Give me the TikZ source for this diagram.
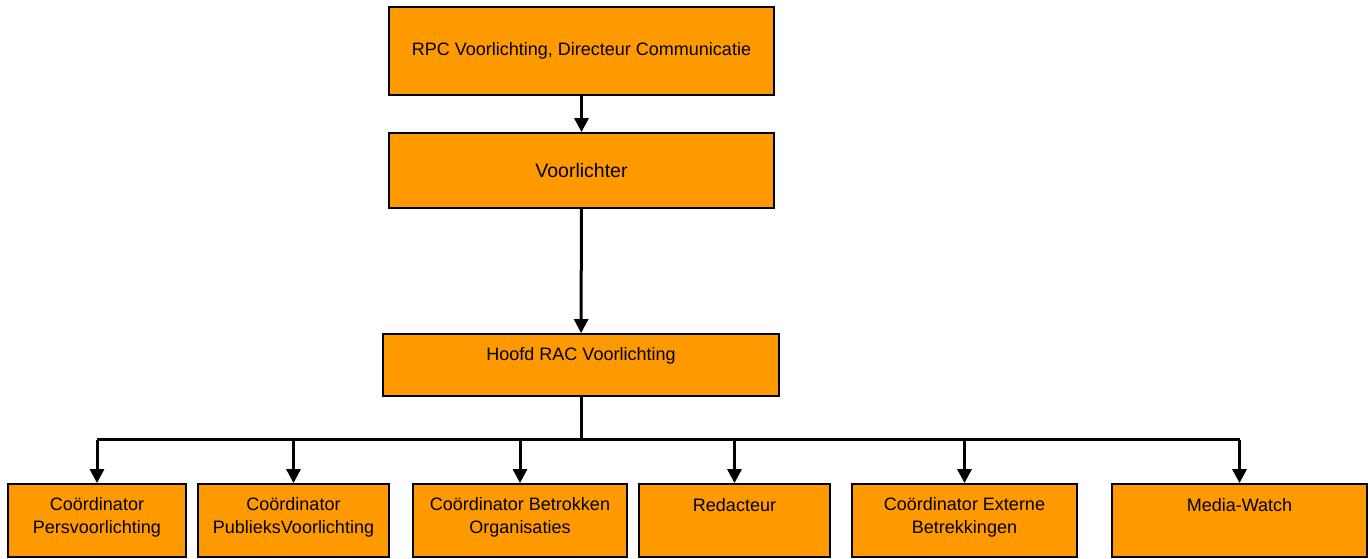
\documentclass[tikz,border=0pt]{standalone}
\usepackage{fontspec}
\setmainfont{Liberation Sans}
\usepackage{xcolor}
\usetikzlibrary{positioning, calc, arrows.meta}
\definecolor{boxorange}{RGB}{255,153,0}

\begin{document}
\begin{tikzpicture}[x=1pt,y=-1pt,
    box/.style={draw, line width=1.8pt, fill=boxorange, inner sep=0pt},
    txt/.style={font=\fontsize{18}{23}\selectfont, align=center, inner sep=0pt},
    conn/.style={line width=3pt, -{Triangle[length=14pt,width=14pt]}},
    bus/.style={line width=3pt}]
      \useasboundingbox (0,0) rectangle (1368,558);
      % top of the chart
      \node[box, minimum width=385pt, minimum height=88pt, font=\fontsize{18}{23}\selectfont] (rpc) at (581.5,51) {RPC Voorlichting, Directeur Communicatie};
      \node[box, minimum width=385pt, minimum height=75pt, font=\fontsize{19.5}{23}\selectfont] (voor) at (581.5,170.5) {Voorlichter};
      \node[box, minimum width=396pt, minimum height=62pt] (hoofd) at (581,365) {};
      \node[txt, anchor=north] (hoofdtxt) at ([yshift=-14pt]hoofd.north) {Hoofd RAC Voorlichting};
      % bottom row
      \node[box, minimum width=178pt, minimum height=73pt] (pers) at (97,520.5) {};
      \node[box, minimum width=191pt, minimum height=73pt] (publ) at (293.5,520.5) {};
      \node[box, minimum width=214pt, minimum height=73pt] (betr) at (520,520.5) {};
      \node[box, minimum width=191pt, minimum height=73pt] (red) at (734.5,520.5) {};
      \node[box, minimum width=225pt, minimum height=73pt] (ext) at (964.5,520.5) {};
      \node[box, minimum width=255pt, minimum height=73pt] (media) at (1239.5,520.5) {};
      \node[txt, anchor=north] (perstxt) at ([yshift=-14.5pt]pers.north) {Coördinator\\Persvoorlichting};
      \node[txt, anchor=north] (publtxt) at ([yshift=-14.5pt]publ.north) {Coördinator\\PublieksVoorlichting};
      \node[txt, anchor=north] (betrtxt) at ([yshift=-14.5pt]betr.north) {Coördinator Betrokken\\Organisaties};
      \node[txt, anchor=north] (redtxt) at ([yshift=-15pt]red.north) {Redacteur};
      \node[txt, anchor=north] (exttxt) at ([yshift=-14.5pt]ext.north) {Coördinator Externe\\Betrekkingen};
      \node[txt, anchor=north] (mediatxt) at ([yshift=-15pt]media.north) {Media-Watch};
      % connectors
      \draw[conn] (rpc) -- (voor);
      \draw[conn] (voor) -- (hoofd);
      \draw[bus] (hoofd.south) -- ++(0,43) coordinate (split);
      \draw[bus] (pers.north |- split) -- (media.north |- split);
      \draw[conn] (pers.north |- split) -- (pers.north);
      \draw[conn] (publ.north |- split) -- (publ.north);
      \draw[conn] (betr.north |- split) -- (betr.north);
      \draw[conn] (red.north |- split) -- (red.north);
      \draw[conn] (ext.north |- split) -- (ext.north);
      \draw[conn] (media.north |- split) -- (media.north);
    \end{tikzpicture}
\end{document}
